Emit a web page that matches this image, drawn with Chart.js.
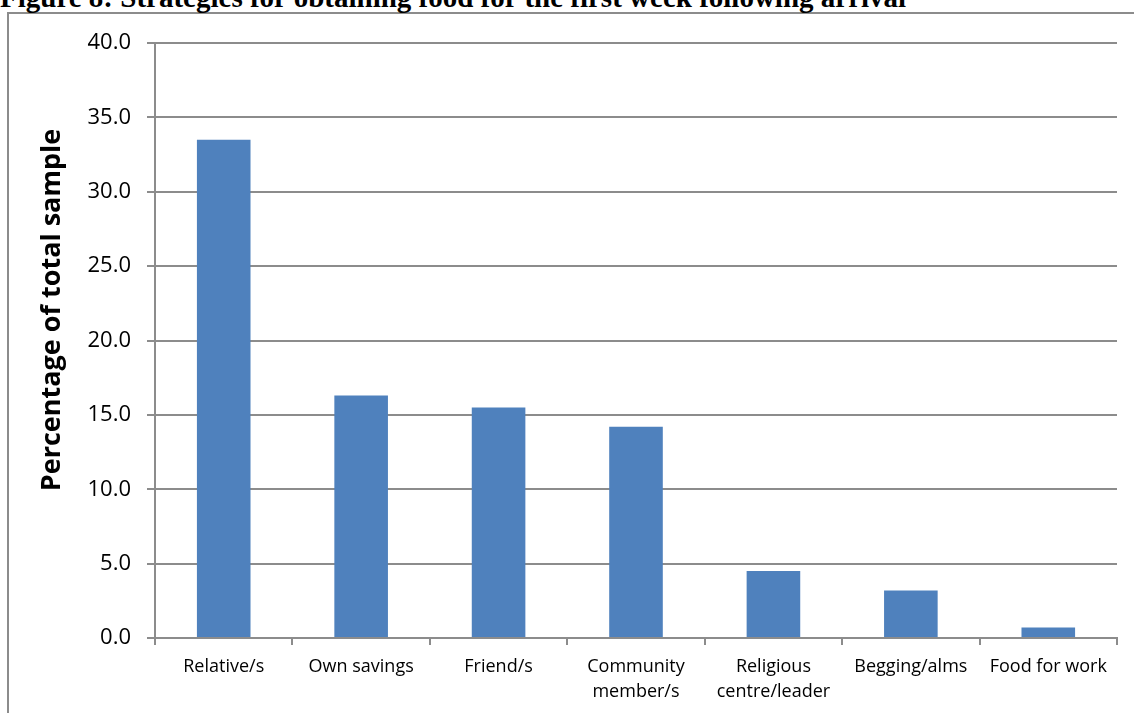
<!DOCTYPE html>
<html>
<head>
<meta charset="utf-8">
<script src="https://cdn.jsdelivr.net/npm/chart.js@4.4.0/dist/chart.umd.min.js"></script>
<style>
  html, body { margin: 0; padding: 0; background: #fff; overflow: hidden; }
  #titulo {
    position: absolute; left: 0; top: -17px;
    font: bold 29px "Liberation Serif", "Times New Roman", serif;
    line-height: 29px; white-space: nowrap; color: #000;
  }
  #marco {
    position: absolute; left: 7px; top: 12px; width: 1300px; height: 900px;
    border: 2px solid #8c8c8c;
  }
  #contenedor { position: absolute; left: 0; top: 0; width: 1134px; height: 713px; }
</style>
</head>
<body>
<div id="marco"></div>
<div id="titulo">Figure 8: Strategies for obtaining food for the first week following arrival</div>
<div id="contenedor"><canvas id="estrategias"></canvas></div>
<script>
// categorias y porcentajes
const categorias = [
    'Relative/s',
    'Own savings',
    'Friend/s',
    ['Community', 'member/s'],
    ['Religious', 'centre/leader'],
    'Begging/alms',
    'Food for work'
];
const porcentajes = [33.5, 16.3, 15.5, 14.2, 4.5, 3.2, 0.7];
const tituloEjeY = 'Percentage of total sample';
const colorBarra = '#4f81bd';
const colorLinea = '#8c8c8c';

// titulo vertical del eje Y, dibujado a mano para colocarlo
const tituloVertical = {
    id: 'tituloVertical',
    afterDraw(chart) {
        const ctx = chart.ctx;
        ctx.save();
        ctx.translate(52, 310);
        ctx.rotate(-Math.PI / 2);
        ctx.font = 'bold 27px "Open Sans", sans-serif';
        ctx.fillStyle = '#000';
        ctx.textAlign = 'center';
        ctx.textBaseline = 'middle';
        ctx.fillText(tituloEjeY, 0, 0);
        ctx.restore();
    }
};

function loadPage() {
    let ctx = document.getElementById('estrategias');
    new Chart(ctx.getContext('2d'), {
        type: 'bar',
        data: {
            labels: categorias,
            datasets: [{
                data: porcentajes,
                backgroundColor: colorBarra,
                borderWidth: 0,
                categoryPercentage: 1,
                barPercentage: 0.39
            }]
        },
        options: {
            responsive: true,
            maintainAspectRatio: false,
            animation: false,
            layout: { padding: { top: 43, right: 17, left: 0, bottom: 0 } },
            plugins: {
                legend: { display: false },
                tooltip: { enabled: false }
            },
            scales: {
                x: {
                    grid: {
                        offset: true,
                        drawOnChartArea: false,
                        drawTicks: true,
                        tickLength: 7,
                        color: colorLinea,
                        lineWidth: 2
                    },
                    border: { display: true, color: colorLinea, width: 2 },
                    ticks: {
                        color: '#000',
                        maxRotation: 0,
                        autoSkip: false,
                        padding: 9,
                        font: { family: '"Open Sans", sans-serif', size: 18, lineHeight: 1.39 }
                    },
                    afterFit: function (scale) { scale.height = 75; }
                },
                y: {
                    min: 0,
                    max: 40,
                    ticks: {
                        stepSize: 5,
                        color: '#000',
                        padding: 16,
                        font: { family: '"Open Sans", sans-serif', size: 22 },
                        callback: function (v) { return v.toFixed(1); }
                    },
                    grid: {
                        color: colorLinea,
                        lineWidth: 2,
                        tickLength: 8
                    },
                    border: { display: true, color: colorLinea, width: 2 },
                    afterFit: function (scale) { scale.width = 155; }
                }
            }
        },
        plugins: [tituloVertical]
    });
}
window.addEventListener('DOMContentLoaded', loadPage);
</script>
</body>
</html>
